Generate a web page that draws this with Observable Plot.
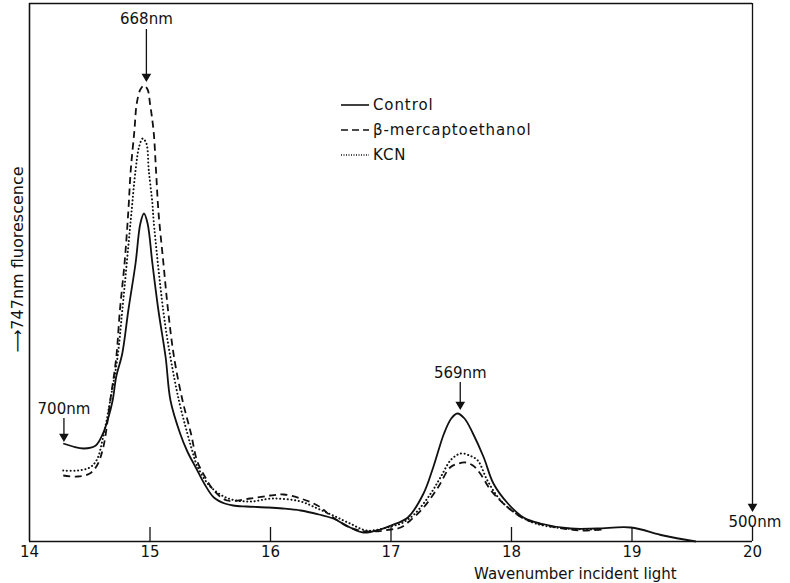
<!DOCTYPE html>
<html>
<head>
<meta charset="utf-8">
<script src="https://cdn.jsdelivr.net/npm/d3@7"></script>
<script src="https://cdn.jsdelivr.net/npm/@observablehq/plot@0.6"></script>
<style>
  html, body { margin: 0; padding: 0; background: #fff; }
  #wrap { position: relative; width: 790px; height: 583px; font-family: "DejaVu Sans", sans-serif; }
  #legend { position: absolute; left: 340px; top: 92px; font-size: 15px; letter-spacing: 0.9px; color: #111; }
  #legend .row { display: flex; align-items: center; height: 25px; }
  #legend svg { margin-right: 3px; }
</style>
</head>
<body>
<div id="wrap"><div id="legend"></div></div>
<script>
// ---- data (wavenumber in 10^3 cm^-1, fluorescence in arbitrary units) ----
const seriesNames = ["Control", "β-mercaptoethanol", "KCN"];

const controlX = [14.28,14.36,14.45,14.55,14.61,14.65,14.69,14.72,14.77,14.82,14.88,14.92,14.95,14.98,15.02,15.07,15.13,15.17,15.25,15.31,15.38,15.45,15.53,15.62,15.69,15.80,15.98,16.10,16.25,16.40,16.52,16.66,16.77,16.91,17.00,17.14,17.27,17.35,17.44,17.50,17.55,17.61,17.68,17.77,17.85,17.97,18.10,18.24,18.49,18.71,18.99,19.26,19.53];
const controlY = [98,95,93,96,108,122,141,165,188,231,278,318,328,318,278,231,184,141,108,90,74,58,44,38,36,35,34,33,31,27,23,14,9,12,16,24,48,74,108,123,128,123,108,84,58,38,24,18,13,13,14,6,0];

const mercaptoX = [14.28,14.40,14.50,14.56,14.61,14.67,14.72,14.75,14.79,14.82,14.84,14.87,14.89,14.92,14.95,14.98,15.00,15.03,15.05,15.07,15.11,15.15,15.20,15.27,15.34,15.39,15.45,15.53,15.64,15.83,16.00,16.11,16.25,16.39,16.52,16.66,16.80,17.00,17.08,17.16,17.27,17.39,17.49,17.56,17.62,17.68,17.74,17.83,17.97,18.10,18.25,18.43,18.57,18.75];
const mercaptoY = [66,65,68,76,93,141,184,231,280,330,371,410,438,452,456,452,438,410,371,330,280,231,184,141,108,81,66,51,41,43,46,47,43,36,24,14,10,12,14,21,34,54,74,78,79,76,68,51,34,23,17,13,11,12];

const kcnX = [14.28,14.40,14.50,14.56,14.61,14.67,14.73,14.77,14.84,14.88,14.91,14.94,14.97,14.99,15.02,15.03,15.11,15.17,15.24,15.31,15.35,15.39,15.50,15.65,15.83,16.02,16.25,16.39,16.52,16.66,16.80,17.00,17.10,17.20,17.33,17.41,17.50,17.58,17.65,17.72,17.80,17.91,18.05,18.20,18.45,18.75];
const kcnY = [71,71,74,82,104,141,184,231,321,371,395,403,398,371,338,321,231,184,141,108,91,76,55,43,40,43,40,33,26,18,11,15,19,28,48,64,82,88,86,81,61,41,27,18,13,12];

const xTicks = [14, 15, 16, 17, 18, 19, 20];

// annotations: wavelength (nm) of marked points
const annotLabel = ["668nm", "569nm", "700nm", "500nm"];
const annotWl = [668, 569, 700, 500];
const annotTextY = [522, 168, 132, 19];
const annotFromY = [512, 159, 123, 538];
const annotToY = [462, 134, 102, 32];

const xLabel = "Wavenumber incident light";
const yLabel = "\u27F6747nm fluorescence";

// ---- build tables ----
const rows = [
  ...controlX.map((x, i) => ({series: seriesNames[0], x, y: controlY[i]})),
  ...mercaptoX.map((x, i) => ({series: seriesNames[1], x, y: mercaptoY[i]})),
  ...kcnX.map((x, i) => ({series: seriesNames[2], x, y: kcnY[i]}))
];
const bySeries = s => rows.filter(d => d.series === s);
const annots = annotLabel.map((label, i) => ({
  label, x: 1e4 / annotWl[i], ty: annotTextY[i], y1: annotFromY[i], y2: annotToY[i]
}));

const dashes = { "Control": null, "β-mercaptoethanol": "7,4.5", "KCN": "0.1,3.6" };

const chart = Plot.plot({
  width: 790,
  height: 583,
  marginLeft: 29,
  marginRight: 38,
  marginTop: 3,
  marginBottom: 42,
  x: { domain: [14, 20] },
  y: { domain: [0, 538], axis: null },
  style: { fontFamily: "DejaVu Sans, sans-serif", fontSize: "14px", background: "#fff", color: "#111", overflow: "visible" },
  marks: [
    Plot.ruleY([0], { strokeWidth: 1.6 }),
    Plot.ruleY([538], { x1: 14, x2: 20, strokeWidth: 1.4 }),
    Plot.ruleX([14], { y1: 0, y2: 538, strokeWidth: 1.6 }),
    Plot.ruleX(xTicks.slice(1), { y1: 0, y2: 14, strokeWidth: 1.3 }),
    Plot.axisX({ ticks: xTicks, tickSize: 0, tickPadding: 5, tickFormat: d => String(d), label: null, fontSize: 15 }),
    Plot.text([xLabel], { x: 18.53, frameAnchor: "bottom", dy: 37, fontSize: 15, letterSpacing: 1 }),
    Plot.text([yLabel], { frameAnchor: "left", textAnchor: "middle", rotate: -90, dx: -12, dy: -13, fontSize: 16, letterSpacing: 0.6 }),
    ...seriesNames.map(s => Plot.line(bySeries(s), {
      x: "x", y: "y", curve: "catmull-rom", stroke: "#111",
      strokeWidth: s === "KCN" ? 2 : 1.8,
      strokeDasharray: dashes[s],
      strokeLinecap: s === "KCN" ? "round" : "butt"
    })),
    Plot.ruleX(annots, { x: "x", y1: "y1", y2: "y2", strokeWidth: 1.3 }),
    Plot.dot(annots, { x: "x", y: "y2", symbol: "triangle", rotate: 180, r: 3.6, fill: "#111", stroke: null, dy: -3 }),
    Plot.text(annots.filter(d => d.label !== "500nm"), { x: "x", y: "ty", text: "label", fontSize: 15, letterSpacing: 0.3 }),
    Plot.text(annots.filter(d => d.label === "500nm"), { x: "x", y: "ty", text: "label", fontSize: 15, textAnchor: "start", dx: -24, letterSpacing: 0.3 })
  ]
});
document.getElementById("wrap").prepend(chart);

// legend
const legend = d3.select("#legend");
seriesNames.forEach(s => {
  const row = legend.append("div").attr("class", "row");
  const svg = row.append("svg").attr("width", 30).attr("height", 10);
  svg.append("line").attr("x1", 1).attr("x2", 29).attr("y1", 5).attr("y2", 5)
    .attr("stroke", "#111").attr("stroke-width", s === "KCN" ? 1.3 : 1.6)
    .attr("stroke-dasharray", s === "Control" ? null : (s === "KCN" ? "1,1.5" : "7,4"));
  row.append("span").text(s);
});
</script>
</body>
</html>
